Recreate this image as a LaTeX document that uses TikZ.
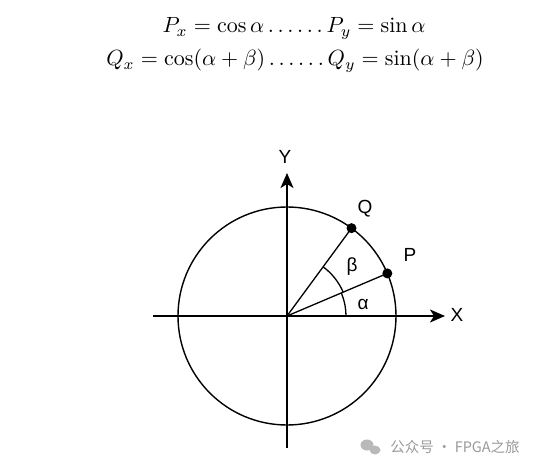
\documentclass[tikz,border=0pt]{standalone}
\usepackage{fontspec}
\newfontfamily\lblfont{Liberation Sans}
\newfontfamily\cjk{Noto Sans CJK SC}
\usetikzlibrary{arrows.meta}
\tikzset{
  axis/.style={line width=1.8pt,-{Stealth[length=15pt,width=13pt,inset=4pt]}},
  ray/.style={line width=1.3pt},
  lbl/.style={font=\lblfont\fontsize{19}{21}\selectfont},
  eqn/.style={anchor=base,scale=2.2},
  dot/.style={circle,fill=black,inner sep=0pt,minimum size=10pt}
}
\begin{document}
\begin{tikzpicture}[x=1pt,y=1pt]
  \useasboundingbox (-287,-155) rectangle (248,316);
  % formulas
  \node[eqn] (eqP) at (7,283) {$P_x=\cos\alpha\ldots\ldots P_y=\sin\alpha$};
  \node[eqn] (eqQ) at (8,250) {$Q_x=\cos(\alpha+\beta)\ldots\ldots Q_y=\sin(\alpha+\beta)$};
  % unit circle
  \coordinate (O) at (0,0);
  \coordinate (xl) at (-134,0);
  \coordinate (xr) at (158,0);
  \coordinate (yb) at (0,-132);
  \coordinate (yt) at (0,143);
  \draw[line width=1.4pt] (O) circle (109);
  \draw[axis] (xl) -- (xr);
  \draw[axis] (yb) -- (yt);
  \node[lbl] (X) at (170,1) {X};
  \node[lbl] (Y) at (-2,159) {Y};
  \node[dot] (P) at (23:109) {};
  \node[dot] (Q) at (53.7:109) {};
  \draw[ray] (O) -- (P.center);
  \draw[ray] (O) -- (Q.center);
  \node[lbl] (Plbl) at (123,61) {P};
  \node[lbl] (Qlbl) at (78,107) {Q};
  % angles
  \draw[ray] (0:59) arc (0:23:59);
  \draw[ray] (23:61) arc (23:53.7:61);
  \node[lbl] (alpha) at (76,12) {α};
  \node[lbl] (beta) at (65,49) {β};
  % watermark
  \fill[gray!55] (80,-129) ellipse (6.5 and 5.5);
  \fill[gray!55] (88,-134) ellipse (5.5 and 4.5);
  \node[font=\cjk\fontsize{14.5}{16}\selectfont,text=gray!80] (wm) at (168,-131) {公众号 · FPGA之旅};
\end{tikzpicture}
\end{document}
